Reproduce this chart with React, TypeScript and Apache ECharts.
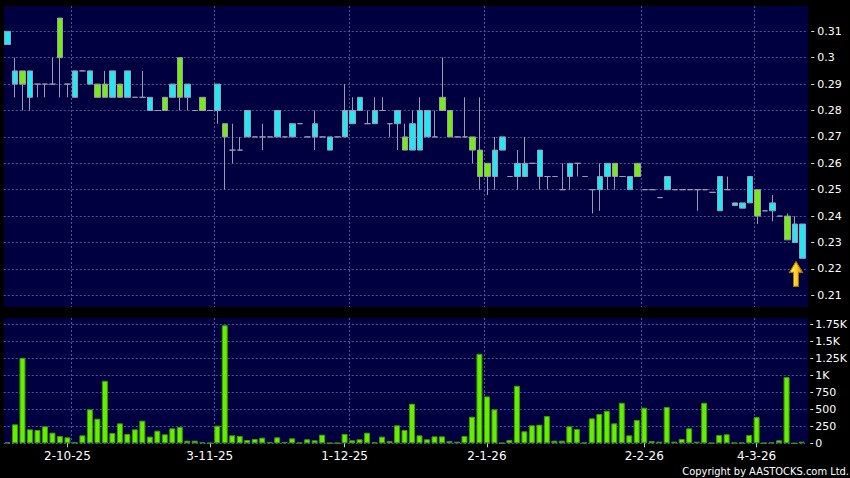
import React, { useEffect, useRef } from 'react';
import * as echarts from 'echarts';

// ---- data (index 0 = first session shown) ----
const openPrices = [
  0.305, 0.29, 0.295, 0.285, 0.29, 0.29, 0.29, 0.315, 0.29, 0.285,
  0.295, 0.29, 0.29, 0.29, 0.285, 0.29, 0.285, 0.285, 0.285, 0.28,
  0.28, 0.285, 0.285, 0.3, 0.285, 0.28, 0.285, 0.28, 0.28, 0.275,
  0.265, 0.265, 0.27, 0.27, 0.27, 0.27, 0.27, 0.27, 0.27, 0.275,
  0.27, 0.27, 0.27, 0.265, 0.27, 0.27, 0.275, 0.28, 0.275, 0.275,
  0.28, 0.275, 0.275, 0.27, 0.265, 0.265, 0.27, 0.27, 0.285, 0.28,
  0.27, 0.27, 0.27, 0.265, 0.26, 0.255, 0.265, 0.255, 0.255, 0.255,
  0.26, 0.255, 0.255, 0.255, 0.25, 0.255, 0.26, 0.255, 0.25, 0.25,
  0.255, 0.26, 0.255, 0.25, 0.26, 0.25, 0.25, 0.247, 0.25, 0.25,
  0.25, 0.25, 0.25, 0.25, 0.249, 0.242, 0.25, 0.244, 0.243, 0.245,
  0.25, 0.242, 0.242, 0.24, 0.24, 0.23, 0.224,
];
const closePrices = [
  0.31, 0.295, 0.29, 0.295, 0.29, 0.29, 0.29, 0.3, 0.29, 0.295,
  0.295, 0.295, 0.285, 0.285, 0.295, 0.285, 0.295, 0.285, 0.285, 0.285,
  0.28, 0.28, 0.29, 0.285, 0.29, 0.28, 0.28, 0.28, 0.29, 0.27,
  0.265, 0.265, 0.28, 0.27, 0.27, 0.27, 0.28, 0.27, 0.275, 0.275,
  0.27, 0.275, 0.27, 0.27, 0.27, 0.28, 0.28, 0.285, 0.275, 0.28,
  0.28, 0.275, 0.28, 0.265, 0.275, 0.28, 0.28, 0.27, 0.28, 0.27,
  0.27, 0.27, 0.265, 0.255, 0.255, 0.265, 0.27, 0.255, 0.26, 0.26,
  0.26, 0.265, 0.255, 0.255, 0.25, 0.26, 0.26, 0.255, 0.25, 0.255,
  0.26, 0.255, 0.255, 0.255, 0.255, 0.25, 0.25, 0.247, 0.255, 0.25,
  0.25, 0.25, 0.25, 0.25, 0.249, 0.255, 0.25, 0.245, 0.245, 0.255,
  0.24, 0.242, 0.245, 0.24, 0.231, 0.237, 0.237,
];
const lowPrices = [
  0.305, 0.285, 0.28, 0.28, 0.285, 0.285, 0.29, 0.285, 0.285, 0.285,
  0.295, 0.29, 0.285, 0.285, 0.285, 0.285, 0.285, 0.285, 0.285, 0.28,
  0.28, 0.28, 0.285, 0.28, 0.28, 0.28, 0.28, 0.28, 0.275, 0.25,
  0.26, 0.265, 0.27, 0.27, 0.265, 0.27, 0.27, 0.27, 0.27, 0.275,
  0.27, 0.265, 0.27, 0.265, 0.27, 0.27, 0.275, 0.28, 0.275, 0.275,
  0.28, 0.27, 0.265, 0.265, 0.265, 0.265, 0.27, 0.27, 0.28, 0.27,
  0.27, 0.27, 0.26, 0.25, 0.248, 0.25, 0.265, 0.255, 0.25, 0.255,
  0.26, 0.25, 0.25, 0.255, 0.25, 0.25, 0.255, 0.255, 0.241, 0.242,
  0.25, 0.25, 0.255, 0.25, 0.255, 0.25, 0.25, 0.247, 0.25, 0.25,
  0.25, 0.25, 0.242, 0.25, 0.249, 0.242, 0.25, 0.244, 0.243, 0.245,
  0.237, 0.242, 0.238, 0.24, 0.231, 0.23, 0.224,
];
const highPrices = [
  0.31, 0.3, 0.295, 0.295, 0.29, 0.29, 0.3, 0.315, 0.29, 0.295,
  0.295, 0.295, 0.29, 0.295, 0.295, 0.29, 0.295, 0.285, 0.295, 0.285,
  0.28, 0.285, 0.29, 0.3, 0.29, 0.28, 0.285, 0.28, 0.29, 0.275,
  0.275, 0.27, 0.28, 0.27, 0.275, 0.27, 0.28, 0.27, 0.275, 0.275,
  0.27, 0.28, 0.27, 0.27, 0.27, 0.29, 0.285, 0.285, 0.28, 0.285,
  0.285, 0.275, 0.28, 0.275, 0.28, 0.285, 0.28, 0.28, 0.3, 0.28,
  0.27, 0.285, 0.27, 0.285, 0.26, 0.27, 0.27, 0.255, 0.265, 0.27,
  0.26, 0.265, 0.255, 0.255, 0.26, 0.26, 0.26, 0.255, 0.25, 0.26,
  0.26, 0.26, 0.255, 0.255, 0.26, 0.25, 0.25, 0.247, 0.255, 0.25,
  0.25, 0.25, 0.25, 0.25, 0.249, 0.255, 0.255, 0.245, 0.245, 0.255,
  0.25, 0.242, 0.248, 0.24, 0.241, 0.24, 0.237,
];
const volumes = [
  15, 278, 1254, 205, 195, 249, 156, 107, 88, 15,
  117, 498, 361, 917, 151, 293, 137, 205, 332, 98,
  185, 132, 220, 239, 39, 39, 15, 5, 259, 1732,
  117, 107, 49, 63, 83, 20, 88, 20, 73, 10,
  59, 44, 127, 5, 5, 137, 44, 59, 156, 15,
  98, 34, 264, 195, 581, 117, 59, 102, 102, 34,
  24, 107, 390, 1313, 688, 498, 5, 49, 844, 176,
  264, 273, 400, 39, 39, 249, 210, 10, 366, 430,
  478, 293, 595, 117, 342, 522, 34, 24, 532, 24,
  63, 220, 24, 595, 5, 122, 132, 10, 10, 122,
  385, 5, 15, 44, 971, 0, 24,
];
const tickIndices = [8, 27, 45, 64, 85, 100];
const tickLabels = ['2-10-25', '3-11-25', '1-12-25', '2-1-26', '2-2-26', '4-3-26'];
const gridLineIndices = [9, 28, 46, 64, 85, 100];
const arrowIndex = 105;
const arrowPrice = 0.2181;

const NAVY = '#000040';
const CYAN = '#22e8f4';
const GREEN = '#77ec14';
const CANDLE_BORDER = '#9a9ab0';
const GRID_COLOR = '#50509c';
const FONT = 'DejaVu Sans';
const ARROW_PATH = 'path://M6.5,0 L13,11 L9,11 L9,25 L4,25 L4,11 L0,11 Z';

export default function App() {
  const ref = useRef<HTMLDivElement>(null);

  useEffect(() => {
    if (!ref.current) return;
    const chart = echarts.init(ref.current, null, { renderer: 'svg', width: 850, height: 478 });

    const categories = openPrices.map((_, i) => String(i));
    const candleData = openPrices.map((o, i) => [o, closePrices[i], lowPrices[i], highPrices[i]]);
    const dashed = { color: GRID_COLOR, width: 1, type: [2, 2] as number[] };
    const left = 3.75;
    const plotWidth = 802.5;

    const hiddenCat = (gridIndex: number, withLines: boolean) => ({
      type: 'category',
      gridIndex,
      data: categories,
      boundaryGap: true,
      axisLine: { show: false },
      axisTick: { show: false },
      axisLabel: { show: false },
      splitLine: {
        show: withLines,
        showMaxLine: false,
        interval: (i: number) => gridLineIndices.includes(i),
        lineStyle: dashed,
      },
    });

    const option: any = {
      animation: false,
      backgroundColor: '#000000',
      grid: [
        { left, width: plotWidth, top: 31.3, height: 264 },
        { left, width: plotWidth, top: 324, height: 119.3 },
        { left, width: plotWidth, top: 6, height: 301 },
        { left, width: plotWidth, top: 318, height: 125.3 },
      ],
      xAxis: [
        hiddenCat(0, false),
        {
          type: 'category',
          gridIndex: 1,
          data: categories,
          boundaryGap: true,
          offset: 3,
          axisLine: { show: false },
          axisTick: {
            show: true,
            alignWithLabel: true,
            length: 4,
            interval: (i: number) => tickIndices.includes(i),
            lineStyle: { color: '#cccccc' },
          },
          axisLabel: {
            interval: (i: number) => tickIndices.includes(i),
            formatter: (v: string) => {
              const k = tickIndices.indexOf(Number(v));
              return k >= 0 ? tickLabels[k] : '';
            },
            color: '#ffffff',
            fontFamily: FONT,
            fontSize: 12,
            margin: 4,
          },
          splitLine: { show: false },
        },
        hiddenCat(2, true),
        hiddenCat(3, true),
      ],
      yAxis: [
        {
          type: 'value',
          gridIndex: 0,
          position: 'right',
          min: 0.21,
          max: 0.31,
          interval: 0.01,
          offset: 5,
          axisLine: { show: false },
          axisTick: { show: true, length: 3, lineStyle: { color: '#dddddd' } },
          axisLabel: { color: '#ffffff', fontFamily: FONT, fontSize: 11, margin: 6 },
          splitLine: { show: true, lineStyle: dashed },
        },
        {
          type: 'value',
          gridIndex: 1,
          position: 'right',
          min: 0,
          max: 1750,
          interval: 250,
          offset: 5,
          axisLine: { show: false },
          axisTick: { show: true, length: 3, lineStyle: { color: '#dddddd' } },
          axisLabel: {
            color: '#ffffff',
            fontFamily: FONT,
            fontSize: 11,
            margin: 5,
            formatter: (v: number) => (v >= 1000 ? `${v / 1000}K` : String(v)),
          },
          splitLine: { show: true, lineStyle: dashed },
        },
        { type: 'value', gridIndex: 2, min: 0, max: 1, show: false },
        { type: 'value', gridIndex: 3, min: 0, max: 1, show: false },
      ],
      graphic: [
        { type: 'rect', z: -100, silent: true, shape: { x: 4, y: 6, width: 804, height: 301 }, style: { fill: NAVY } },
        { type: 'rect', z: -100, silent: true, shape: { x: 4, y: 318, width: 804, height: 125.3 }, style: { fill: NAVY } },
        {
          type: 'text',
          x: 849,
          y: 471.5,
          silent: true,
          style: {
            text: 'Copyright by AASTOCKS.com Ltd.',
            fill: '#ffffff',
            fontFamily: 'DejaVu Sans Condensed, DejaVu Sans',
            fontSize: 11,
            align: 'right',
            verticalAlign: 'middle',
          },
        },
      ],
      series: [
        {
          type: 'candlestick',
          xAxisIndex: 0,
          yAxisIndex: 0,
          data: candleData,
          barWidth: 6,
          clip: false,
          itemStyle: {
            color: CYAN,
            color0: GREEN,
            borderColor: CANDLE_BORDER,
            borderColor0: CANDLE_BORDER,
            borderColorDoji: CANDLE_BORDER,
            borderWidth: 1,
          },
          markPoint: {
            silent: true,
            symbol: ARROW_PATH,
            symbolSize: [13, 25],
            symbolOffset: [1, 0],
            label: { show: false },
            itemStyle: {
              color: new echarts.graphic.LinearGradient(0, 0, 1, 0, [
                { offset: 0, color: '#fff6a0' },
                { offset: 0.5, color: '#ffd21a' },
                { offset: 1, color: '#e09000' },
              ]),
              borderColor: '#b07800',
              borderWidth: 1,
            },
            data: [{ coord: [arrowIndex, arrowPrice] }],
          },
        },
        {
          type: 'bar',
          xAxisIndex: 1,
          yAxisIndex: 1,
          data: volumes,
          barWidth: 6,
          itemStyle: { color: '#66ee00', borderColor: '#3a9a08', borderWidth: 1 },
        },
      ],
    };

    chart.setOption(option);
    return () => chart.dispose();
  }, []);

  return (
    <div
      ref={ref}
      style={{ position: 'fixed', left: 0, top: 0, width: 850, height: 478, background: '#000000' }}
    />
  );
}
